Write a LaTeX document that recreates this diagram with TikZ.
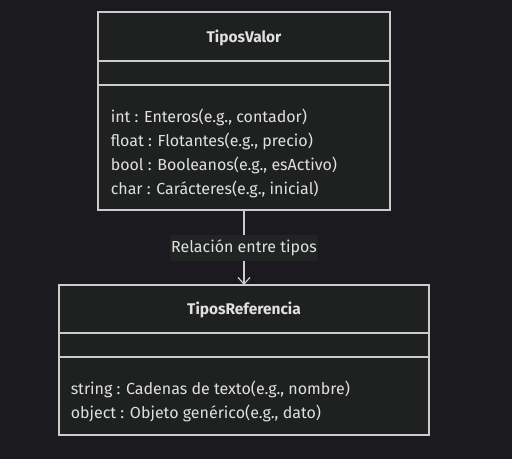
\documentclass[tikz,border=0pt]{standalone}
\usepackage{fontspec}
\setmainfont{Fira Sans}
\usetikzlibrary{arrows.meta}
\definecolor{bgc}{HTML}{1B1B1F}
\definecolor{boxc}{HTML}{1F2020}
\definecolor{lblc}{HTML}{202423}
\definecolor{linec}{HTML}{CCCCCC}
\definecolor{txtc}{HTML}{E0E0E0}
\tikzset{
  box/.style={draw=linec, fill=boxc, line width=1.5pt},
  divider/.style={draw=linec, line width=1.5pt},
  title/.style={text=txtc, font=\fontsize{11.6pt}{13pt}\selectfont\bfseries, inner sep=0pt},
  attr/.style={text=txtc, font=\fontsize{12pt}{14pt}\selectfont, inner sep=0pt, anchor=west},
  lbl/.style={text=txtc, fill=lblc, font=\fontsize{12pt}{14pt}\selectfont, inner xsep=0.5pt, minimum height=18pt},
  conn/.style={draw=linec, line width=0.9pt, -{Straight Barb[length=5pt,width=9pt]}}
}
\begin{document}
\begin{tikzpicture}[x=0.75pt,y=-0.75pt]
\fill[bgc] (0,0) rectangle (512,459);
\useasboundingbox (0,0) rectangle (512,459);
% top box
\path[box] (98,12.5) rectangle (390,210.5);
\node[coordinate] (tvbot) at (244,210.5) {};
\draw[divider] (98,60.7) -- (390,60.7);
\draw[divider] (98,85) -- (390,85);
\node[title] (tvt) at (244,38) {TiposValor};
\node[attr] (a1) at (110.5,117) {int : Enteros(e.g., contador)};
\node[attr] (a2) at (110.5,141) {float : Flotantes(e.g., precio)};
\node[attr] (a3) at (110.5,165) {bool : Booleanos(e.g., esActivo)};
\node[attr] (a4) at (110.5,189) {char : Carácteres(e.g., inicial)};
% bottom box
\path[box] (58.5,285) rectangle (429,435);
\node[coordinate] (trtop) at (244,285) {};
\draw[divider] (58.5,332.7) -- (429,332.7);
\draw[divider] (58.5,356.7) -- (429,356.7);
\node[title] (trt) at (244,310) {TiposReferencia};
\node[attr] (b1) at (70.5,389) {string : Cadenas de texto(e.g., nombre)};
\node[attr] (b2) at (70.5,413) {object : Objeto genérico(e.g., dato)};
% connector
\draw[conn] (tvbot) -- (trtop);
\node[lbl] (rel) at (244,248) {Relación entre tipos};
\end{tikzpicture}
\end{document}
